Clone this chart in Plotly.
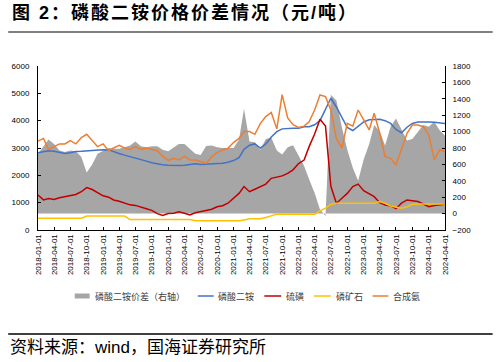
import plotly.graph_objects as go

# Monthly dates 2018-01 .. 2024-04
dates = [f"{y}-{m:02d}-01" for y in range(2018, 2025) for m in range(1, 13)]
dates = dates[: dates.index("2024-04-01") + 1]

tick_vals = [f"{y}-{m:02d}-01" for y in range(2018, 2025) for m in (1, 4, 7, 10)]
tick_vals = tick_vals[: tick_vals.index("2024-04-01") + 1]
tick_text = tick_vals

# 磷酸二铵 (left axis)
dap = [2830, 2870, 2900, 2880, 2830, 2800, 2830, 2870, 2880, 2900, 2920, 2930, 2940, 2930, 2880, 2800,
       2740, 2690, 2640, 2580, 2520, 2460, 2420, 2390, 2370,
       2360, 2360, 2370, 2400, 2420, 2400, 2410, 2420, 2430, 2440, 2480, 2540,
       2650, 2950, 3100, 3150, 3000, 3150, 3400, 3600, 3700, 3720, 3720, 3720, 3780,
       3780, 3850, 4000, 4450, 4820, 4500, 4100, 3750, 3640, 3800, 3950, 4030, 4050, 4050, 4000,
       3900, 3680, 3560, 3760, 3900, 3950, 3960, 3950, 3940, 3920, 3900]

# 合成氨 (left axis)
ammonia = [3250, 3350, 2950, 3050, 3150, 3150, 3270, 3150, 3380, 3500, 3250, 3050, 3150, 2900, 3000,
           3100, 3000, 2950, 3050, 2950, 3000, 2950, 2900, 2700, 2550,
           2620, 2560, 2700, 2560, 2560, 2500, 2440, 2680, 2830, 2930, 2990,
           3200, 3350, 3600, 3600, 3500, 3900, 4150, 4300, 3700, 4950, 4100, 3850, 3750, 3800,
           3960, 4390, 4940, 4880, 4390, 3350, 3000, 3900, 3800, 4390, 4025, 3660, 4270, 3540, 2680,
           2620, 2380, 2930, 3540, 3840, 3840, 3780, 3480, 2560, 2930, 2870]

# 硫磺 (left axis)
sulfur = [1280, 1100, 1150, 1120, 1180, 1220, 1240, 1300, 1400, 1550, 1480, 1380, 1250, 1200, 1100,
          1050, 1000, 920, 900, 850, 780, 720, 600, 530, 600,
          610, 670, 610, 550, 630, 670, 710, 760, 850, 890, 980, 1160, 1340, 1590, 1400, 1490, 1590,
          1680, 1890, 1950, 1980, 2070, 2200, 2430,
          2560, 3050, 3510, 4050, 3800, 1600, 980, 1160, 1340, 1590, 1680, 1440, 1320, 1220, 1000,
          915, 880, 780, 980, 1100, 1070, 1040, 950, 850, 900, 930, 940]

# 磷矿石 (left axis)
rock = ([430] * 9 + [510] * 8 + [380] * 12 + [340] * 9 + [370] + [415] * 3 + [460] + [510]
        + [580] * 8 + [700, 800, 940] + [980] * 8 + [1040, 980, 880, 830, 800, 850, 940] + [950] * 6)

# 磷酸二铵价差 (right axis)
spread = [730, 830, 905, 850, 770, 750, 770, 760, 690, 500, 600, 730, 770, 800, 790, 790, 810, 830,
          880, 820, 810, 820, 820, 780, 760,
          810, 850, 850, 790, 730, 715, 825, 830, 810, 800, 800, 800, 900, 1280, 880, 870, 780, 910,
          925, 770, 720, 810, 835, 700,
          580, 420, 250, 50, -30, 1450, 1380, 1050, 780, 560, 400, 660, 850, 1080, 1000, 830, 1060,
          1160, 1020, 890, 910, 1000, 1080, 1060, 1120, 1020, 950]

series_names = ["磷酸二铵价差（右轴）", "磷酸二铵", "硫磺", "磷矿石", "合成氨"]
series_colors = ["#a6a6a6", "#4472C4", "#C00000", "#FFC000", "#ED7D31"]

CJK = "Noto Sans CJK SC"
LAT = "Liberation Sans, Noto Sans CJK SC"

# plot area in pixels: x 35..445, y 66..230
def px(x):
    return (x - 35) / 410.0

def py(y):
    return (230 - y) / 164.0

fig = go.Figure()
# spread on primary (right-side) axis so the price lines draw on top of it
fig.add_trace(go.Scatter(x=dates, y=spread, name=series_names[0], yaxis="y",
                         mode="lines", fill="tozeroy", fillcolor=series_colors[0],
                         line=dict(color=series_colors[0], width=0), showlegend=False))
for vals, nm, col in [(dap, series_names[1], series_colors[1]),
                      (sulfur, series_names[2], series_colors[2]),
                      (rock, series_names[3], series_colors[3]),
                      (ammonia, series_names[4], series_colors[4])]:
    fig.add_trace(go.Scatter(x=dates, y=vals, name=nm, yaxis="y2", mode="lines",
                             line=dict(color=col, width=1.5), showlegend=False))

axis_common = dict(showline=True, linecolor="black", linewidth=1, showgrid=False,
                   zeroline=False, ticks="inside", ticklen=3, tickcolor="black",
                   tickfont=dict(family=LAT, size=8, color="black"))

fig.update_layout(
    width=498, height=362,
    margin=dict(l=35, r=53, t=66, b=132),
    paper_bgcolor="white", plot_bgcolor="white",
    xaxis=dict(type="date", range=["2018-01-01", "2024-04-01"], tickvals=tick_vals,
               ticktext=tick_text, tickangle=-90, **axis_common),
    yaxis=dict(range=[-200, 1800], dtick=200, side="right", ticklabelstandoff=5, **axis_common),
    yaxis2=dict(range=[0, 6000], dtick=1000, overlaying="y", side="left",
                ticklabelstandoff=6, **axis_common),
    showlegend=False,
)

# legend (drawn in paper space)
leg_y = py(296)
leg_items = [(72, 87, 90, 5), (196, 212, 214, 1.5), (263, 280, 283, 1.5),
             (313, 330, 333, 1.5), (372, 388, 391, 1.5)]
for (x0, x1, xt, w), nm, col in zip(leg_items, series_names, series_colors):
    fig.add_shape(type="line", xref="paper", yref="paper", x0=px(x0), x1=px(x1),
                  y0=leg_y, y1=leg_y, line=dict(color=col, width=w))
    fig.add_annotation(text=nm, xref="paper", yref="paper", x=px(xt), y=leg_y,
                       xanchor="left", yanchor="middle", showarrow=False,
                       font=dict(family=CJK, size=9, color="#404040"))

fig.add_annotation(text='<b><span style="letter-spacing:2px">图 2：磷酸二铵价格价差情况（元/吨）</span></b>',
                   xref="paper", yref="paper", x=px(7), y=py(13), xanchor="left", yanchor="middle",
                   showarrow=False, font=dict(family=LAT, size=18, color="black"))
fig.add_annotation(text="资料来源：wind，国海证券研究所",
                   xref="paper", yref="paper", x=px(5), y=py(347), xanchor="left", yanchor="middle",
                   showarrow=False, font=dict(family=LAT, size=17, color="black"))
fig.add_shape(type="line", xref="paper", yref="paper", x0=px(5), x1=px(493), y0=py(32), y1=py(32),
              line=dict(color="#7f7f7f", width=2))
fig.add_shape(type="line", xref="paper", yref="paper", x0=px(5), x1=px(493), y0=py(334), y1=py(334),
              line=dict(color="black", width=1.5))

fig.write_html("out.html", config={"displayModeBar": False, "staticPlot": True},
               post_script="document.body.style.margin='0';document.body.style.padding='0';")
